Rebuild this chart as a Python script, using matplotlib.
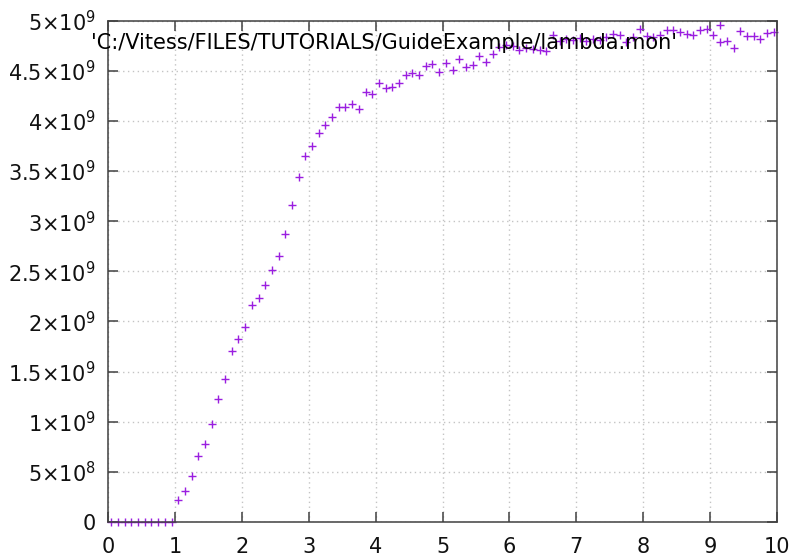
import numpy as np
import matplotlib
matplotlib.use('Agg')
import matplotlib.pyplot as plt

# wavelength bin centres and intensity (units of 1e9)
lam = np.round(np.arange(0.05, 10.0, 0.1), 2)
intensity = [
    0, 0, 0, 0, 0, 0, 0, 0, 0, 0,
    0.224, 0.307, 0.456, 0.655, 0.782, 0.981, 1.227, 1.429, 1.701, 1.825,
    1.947, 2.163, 2.236, 2.360, 2.512, 2.654, 2.873, 3.165, 3.438, 3.647,
    3.750, 3.883, 3.959, 4.036, 4.135, 4.141, 4.168, 4.118, 4.290, 4.267,
    4.380, 4.325, 4.335, 4.375, 4.457, 4.480, 4.457, 4.550, 4.567, 4.490,
    4.574, 4.507, 4.617, 4.540, 4.557, 4.650, 4.590, 4.663, 4.740, 4.760,
    4.745, 4.710, 4.730, 4.720, 4.710, 4.700, 4.860, 4.800, 4.820, 4.810,
    4.830, 4.800, 4.820, 4.810, 4.840, 4.870, 4.860, 4.790, 4.840, 4.915,
    4.850, 4.840, 4.860, 4.905, 4.905, 4.890, 4.865, 4.855, 4.905, 4.915,
    4.860, 4.955, 4.800, 4.730, 4.895, 4.850, 4.850, 4.815, 4.880, 4.890,
]
intensity = np.array(intensity) * 1e9

series_label = "'C:/Vitess/FILES/TUTORIALS/GuideExample/lambda.mon'"

x_ticks = list(range(0, 11))
y_ticks = [0, 0.5e9, 1e9, 1.5e9, 2e9, 2.5e9, 3e9, 3.5e9, 4e9, 4.5e9, 5e9]
y_tick_labels = ['0', '5×10$^{8}$', '1×10$^{9}$', '1.5×10$^{9}$', '2×10$^{9}$',
                 '2.5×10$^{9}$', '3×10$^{9}$', '3.5×10$^{9}$', '4×10$^{9}$',
                 '4.5×10$^{9}$', '5×10$^{9}$']

fs = 15
axis_col = '#404040'

fig = plt.figure(figsize=(7.93, 5.59), dpi=100)
W, H = 793, 559
ax = fig.add_axes([108 / W, (H - 522) / H, (777 - 108) / W, (522 - 20.7) / H])

ax.plot(lam, intensity, linestyle='none', marker='+', markersize=5.5,
        markeredgewidth=1.0, color='#9a1ee0', label=series_label, clip_on=False)

ax.set_xlim(0, 10)
ax.set_ylim(0, 5e9)
ax.set_xticks(x_ticks)
ax.set_xticklabels([str(t) for t in x_ticks])
ax.set_yticks(y_ticks)
ax.set_yticklabels(y_tick_labels)

ax.grid(True, color='#c4c4c4', linestyle=(0, (1, 2.5)), linewidth=1.0)
ax.set_axisbelow(True)

for sp in ax.spines.values():
    sp.set_color(axis_col)
    sp.set_linewidth(1.1)

ax.tick_params(axis='both', direction='in', length=7, width=1.1,
               color=axis_col, labelsize=fs, labelcolor='#111111',
               top=True, right=True)
ax.tick_params(axis='y', pad=9)
ax.tick_params(axis='x', pad=11)

leg = ax.legend(loc='center right', bbox_to_anchor=(0.958, 0.955),
                frameon=False, markerfirst=False, fontsize=fs,
                handletextpad=1.07, handlelength=2.0, borderaxespad=0)

fig.savefig('out.png', dpi=100)
